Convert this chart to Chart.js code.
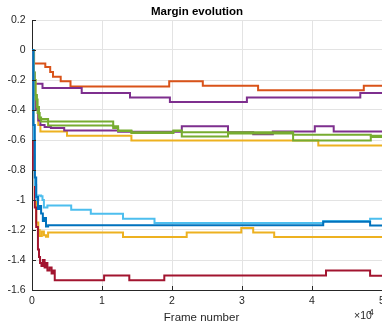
<!DOCTYPE html>
<html>
<head>
<meta charset="utf-8">
<script src="https://cdn.jsdelivr.net/npm/chart.js@4.4.1/dist/chart.umd.min.js"></script>
<style>
  html, body { margin: 0; padding: 0; background: #fff; overflow: hidden; }
  canvas { display: block; }
</style>
</head>
<body>
<canvas id="c" width="382" height="322"></canvas>
<script>
// Margin per series as [frame, margin] pairs; each margin holds until the next frame.
const orangeSteps = [[0,0],[300,-0.09],[1900,-0.113],[2600,-0.147],[3000,-0.178],[4100,-0.209],[5500,-0.243],[19600,-0.209],[24400,-0.238],[32300,-0.269],[47400,-0.238],[50000,-0.238]];
const purpleUpperSteps = [[0,0],[250,-0.225],[1500,-0.253],[7100,-0.287],[14000,-0.316],[19700,-0.347],[30700,-0.316],[46900,-0.287],[50000,-0.287]];
const purpleLowerSteps = [[0,0],[150,-0.15],[350,-0.3],[600,-0.4],[900,-0.47],[1200,-0.5],[1800,-0.513],[2700,-0.52],[4600,-0.536],[12300,-0.545],[21400,-0.509],[28000,-0.549],[31600,-0.562],[34400,-0.543],[40400,-0.509],[43100,-0.543],[50000,-0.543]];
const greenUpperSteps = [[0,0],[200,-0.15],[400,-0.3],[700,-0.38],[1000,-0.45],[1300,-0.476],[11600,-0.509],[12300,-0.536],[14200,-0.549],[20200,-0.536],[21400,-0.549],[37300,-0.565],[48400,-0.572],[50000,-0.572]];
const greenLowerSteps = [[0,0],[250,-0.2],[500,-0.33],[800,-0.42],[1100,-0.46],[2300,-0.503],[11600,-0.52],[12300,-0.54],[14200,-0.553],[20200,-0.54],[21400,-0.576],[28000,-0.556],[37300,-0.603],[48400,-0.58],[50000,-0.58]];
const yellowUpperSteps = [[0,0],[200,-0.2],[500,-0.4],[900,-0.5],[1200,-0.543],[5000,-0.571],[14200,-0.603],[40900,-0.636],[50000,-0.636]];
const lightBlueSteps = [[0,0],[200,-0.6],[400,-0.9],[600,-1.0],[900,-0.97],[1300,-0.975],[1500,-1.0],[1700,-1.05],[2200,-1.036],[5600,-1.065],[8400,-1.091],[13000,-1.125],[17500,-1.153],[41600,-1.14],[48300,-1.125],[50000,-1.125]];
const blueSteps = [[0,0],[200,-0.5],[400,-0.85],[600,-0.98],[850,-1.06],[1100,-1.04],[1300,-1.09],[1550,-1.14],[1800,-1.12],[2000,-1.176],[2300,-1.168],[41600,-1.145],[48300,-1.17],[50000,-1.17]];
const yellowLowerSteps = [[0,0],[200,-0.7],[400,-1.0],[600,-1.15],[900,-1.2],[1100,-1.24],[1400,-1.21],[1700,-1.235],[2000,-1.245],[2300,-1.216],[13000,-1.247],[22100,-1.216],[29900,-1.187],[31600,-1.216],[34600,-1.247],[50000,-1.247]];
const redSteps = [[0,0],[150,-0.8],[400,-1.05],[600,-1.18],[850,-1.33],[1000,-1.38],[1150,-1.42],[1350,-1.44],[1550,-1.40],[1800,-1.45],[2000,-1.42],[2200,-1.47],[2500,-1.45],[2800,-1.49],[3000,-1.47],[3250,-1.535],[10300,-1.503],[13900,-1.535],[18900,-1.503],[42000,-1.47],[48300,-1.505],[50000,-1.505]];

// Axis ranges and tick spacing (frame axis is labelled in units of 10^4)
const frameRange = [0, 50000];
const frameStep = 10000;
const marginRange = [-1.6, 0.2];
const marginStep = 0.2;

const FONT = '"Liberation Sans", Arial, Helvetica, sans-serif';
const AXIS_COLOR = '#262626';

function toPoints(steps) {
  return steps.map(([x, y]) => ({ x, y }));
}

// Listed top-most first: Chart.js paints dataset 0 last.
const series = [
  { steps: blueSteps,        color: '#0072BD' },
  { steps: lightBlueSteps,   color: '#4DBEEE' },
  { steps: redSteps,         color: '#A2142F' },
  { steps: yellowLowerSteps, color: '#EDB120' },
  { steps: greenUpperSteps,  color: '#77AC30' },
  { steps: greenLowerSteps,  color: '#77AC30' },
  { steps: purpleLowerSteps, color: '#7E2F8E' },
  { steps: yellowUpperSteps, color: '#EDB120' },
  { steps: purpleUpperSteps, color: '#7E2F8E' },
  { steps: orangeSteps,      color: '#D95319' }
];

// Titles, inward tick marks and the "x10^4" exponent label for the frame axis.
const axisDecor = {
  id: 'axisDecor',
  afterDraw(chart) {
    const { ctx, chartArea, scales } = chart;
    ctx.save();
    ctx.strokeStyle = AXIS_COLOR;
    ctx.lineWidth = 1;
    ctx.beginPath();
    scales.y.ticks.forEach(t => {
      const py = Math.round(scales.y.getPixelForValue(t.value)) + 0.5;
      ctx.moveTo(chartArea.left, py);
      ctx.lineTo(chartArea.left + 4, py);
    });
    scales.x.ticks.forEach(t => {
      const px = Math.round(scales.x.getPixelForValue(t.value)) + 0.5;
      ctx.moveTo(px, chartArea.bottom);
      ctx.lineTo(px, chartArea.bottom - 4);
    });
    ctx.stroke();

    ctx.fillStyle = '#000';
    ctx.textAlign = 'center';
    ctx.textBaseline = 'alphabetic';
    ctx.font = 'bold 11.5px ' + FONT;
    ctx.fillText('Margin evolution', 197, 14.5);

    ctx.fillStyle = AXIS_COLOR;
    ctx.font = '11.5px ' + FONT;
    ctx.fillText('Frame number', 201.5, 320.5);

    ctx.textAlign = 'left';
    ctx.font = '10.5px ' + FONT;
    ctx.fillText('\u00d710', 354, 319);
    ctx.font = '8.5px ' + FONT;
    ctx.fillText('4', 369, 314.5);
    ctx.restore();
  }
};

new Chart(document.getElementById('c'), {
  type: 'line',
  data: {
    datasets: series.map(s => ({
      data: toPoints(s.steps),
      borderColor: s.color,
      backgroundColor: s.color,
      borderWidth: 2,
      stepped: true,
      pointRadius: 0,
      fill: false,
      tension: 0
    }))
  },
  options: {
    responsive: false,
    animation: false,
    events: [],
    layout: { padding: { left: 0, right: 0, top: 20, bottom: 0 } },
    plugins: {
      legend: { display: false },
      tooltip: { enabled: false },
      title: { display: false }
    },
    scales: {
      x: {
        type: 'linear',
        min: frameRange[0],
        max: frameRange[1],
        afterFit(scale) {
          scale.height = 32;
          scale.paddingLeft = 0;
          scale.paddingRight = 0;
        },
        ticks: {
          stepSize: frameStep,
          padding: 5,
          maxRotation: 0,
          autoSkip: false,
          color: AXIS_COLOR,
          font: { family: FONT, size: 10.5 },
          callback: v => String(Math.round(v / frameStep))
        },
        grid: { color: '#e3e3e3', drawTicks: false },
        border: { color: AXIS_COLOR, width: 1 }
      },
      y: {
        type: 'linear',
        min: marginRange[0],
        max: marginRange[1],
        afterFit(scale) {
          scale.width = 32;
          scale.paddingTop = 0;
          scale.paddingBottom = 0;
        },
        ticks: {
          stepSize: marginStep,
          padding: 6.5,
          autoSkip: false,
          color: AXIS_COLOR,
          font: { family: FONT, size: 10.5 },
          callback: v => String(Math.round(v * 10) / 10)
        },
        grid: { color: '#e3e3e3', drawTicks: false },
        border: { color: AXIS_COLOR, width: 1 }
      }
    }
  },
  plugins: [axisDecor]
});
</script>
</body>
</html>
